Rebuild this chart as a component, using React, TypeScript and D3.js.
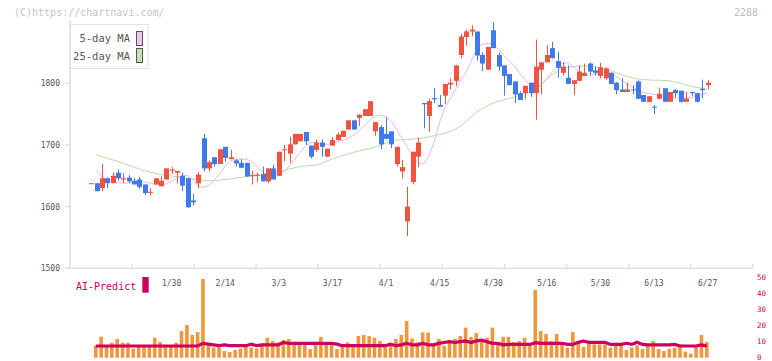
import * as d3 from 'd3';

// candle index 0..115 (trading days 1/8 .. 6/27)
const opens = [1638,1638,1630,1646,1638,1655,1644,1647,1642,1644,1636,1623,1636,1633,1644,1659,1655,1650,1646,1610,1638,1711,1662,1680,1669,1697,1677,1675,1671,1671,1650,1650,1653,1641,1662,1650,1692,1686,1701,1706,1721,1699,1692,1704,1681,1699,1708,1713,1725,1740,1744,1747,1747,1722,1729,1718,1722,1669,1657,1576,1640,1681,1768,1747,1776,1765,1780,1798,1804,1846,1875,1884,1884,1846,1822,1886,1846,1829,1815,1803,1784,1784,1801,1784,1822,1834,1857,1836,1817,1809,1799,1804,1812,1832,1821,1812,1808,1817,1801,1790,1786,1790,1803,1781,1770,1762,1775,1792,1770,1789,1788,1770,1786,1784,1791,1797];
const highs = [1638,1638,1669,1647,1655,1660,1654,1651,1646,1648,1636,1630,1646,1649,1662,1664,1658,1655,1647,1621,1656,1718,1675,1680,1693,1697,1692,1677,1677,1671,1658,1655,1665,1662,1668,1689,1700,1713,1718,1718,1721,1699,1709,1709,1694,1713,1720,1723,1740,1740,1750,1758,1771,1737,1732,1745,1722,1697,1676,1632,1689,1712,1768,1774,1792,1781,1799,1808,1830,1880,1887,1894,1884,1850,1859,1899,1850,1829,1815,1803,1787,1796,1801,1871,1834,1862,1867,1851,1834,1829,1805,1829,1832,1834,1827,1833,1826,1817,1802,1808,1801,1797,1805,1781,1779,1765,1793,1792,1786,1791,1788,1786,1786,1784,1806,1805];
const lows = [1638,1625,1625,1630,1638,1642,1638,1638,1636,1629,1619,1618,1636,1633,1644,1653,1638,1625,1598,1602,1630,1657,1657,1665,1669,1673,1677,1665,1662,1648,1636,1640,1641,1638,1644,1650,1674,1671,1701,1706,1700,1678,1689,1681,1681,1699,1707,1713,1725,1725,1731,1747,1747,1715,1693,1709,1695,1665,1646,1552,1636,1664,1727,1721,1768,1762,1766,1790,1796,1841,1861,1876,1837,1820,1822,1857,1820,1780,1797,1768,1773,1774,1778,1741,1782,1834,1840,1809,1813,1799,1781,1804,1812,1813,1813,1808,1806,1799,1782,1786,1786,1782,1774,1770,1769,1750,1774,1770,1770,1777,1769,1770,1779,1769,1776,1790];
const closes = [1638,1625,1646,1638,1650,1646,1646,1641,1636,1632,1622,1624,1646,1642,1662,1660,1658,1634,1599,1607,1652,1662,1672,1669,1693,1679,1680,1670,1663,1649,1651,1652,1641,1662,1644,1689,1693,1701,1718,1718,1706,1681,1704,1697,1694,1708,1717,1723,1740,1725,1749,1758,1771,1737,1701,1710,1701,1697,1664,1600,1689,1704,1766,1771,1774,1762,1799,1801,1829,1876,1884,1887,1845,1832,1859,1857,1827,1812,1797,1782,1773,1796,1784,1827,1834,1846,1841,1825,1827,1799,1805,1819,1817,1819,1817,1826,1824,1799,1789,1786,1790,1789,1775,1770,1779,1761,1783,1770,1786,1784,1770,1775,1784,1770,1789,1801];

const ma5 = [null,1659,1648,1643,1640,1639,1638,1638,1639,1640.5,1640,1638,1636,1634.5,1637,1641,1647,1650,1651,1643,1633,1631,1635,1644,1653,1666,1674,1677,1677,1677,1673,1664,1656,1652,1652,1653,1657,1666,1677,1688,1699,1704,1704,1702,1701,1702,1705,1708,1711,1716,1723,1731,1740,1747,1748,1746,1738,1725,1710,1696,1682,1671,1669,1682,1705,1737,1760,1776,1790,1806,1819,1838,1857,1863,1865,1862,1855,1845,1837,1827,1816,1805,1796,1792,1798,1808,1818,1827,1833,1833,1827,1819,1813,1813,1815,1817,1818,1818,1811,1804,1799,1794,1788,1785,1783,1782,1781,1779,1777,1776,1776,1776,1777,1779,1782,1784];
const ma25 = [null,1684,1681,1678,1676,1673,1670,1667,1664,1661,1658,1656,1654,1652,1651,1649.5,1648.5,1647,1646,1645,1644,1642.5,1642,1642.5,1643,1644,1645,1646.5,1647.5,1649,1650,1650.5,1651.5,1652.5,1654,1656,1658.5,1661,1663,1665,1666,1666.5,1667,1670,1674,1677.5,1680,1683,1685.5,1688,1690.5,1692.5,1694,1697,1700,1703,1707,1708,1708.5,1709,1709.5,1710.5,1711.5,1713,1715,1717,1719,1722,1726,1731,1739,1746,1754,1759,1764,1768,1771,1773,1775.5,1778,1781,1783.5,1787,1791,1798,1806,1814,1820,1825,1826,1827,1828,1828,1827.5,1827,1825,1823.5,1821,1817,1814,1811,1809,1807,1806,1805.5,1805,1805,1804.5,1804,1802,1800,1797,1795,1793,1792,1790.5];

const volume = [null,7.5,13.1,7.5,9.4,11.7,9.4,9.4,5.6,7.5,7.5,7.5,12.5,9.8,7.5,7.5,9.4,16.7,20.4,14.2,16,49.2,7.5,6.3,7.5,4.2,3.5,4.8,5.6,7.5,6.3,5.8,7.7,12.5,10.4,9.6,11,11.7,8,8,8.5,5.4,8,13,8,8,5.4,8.5,9.6,8.5,13.5,14.2,13.5,12.5,10.4,8.3,8.3,11.7,14.2,22.9,12,9.6,15.8,15.8,8.3,11.7,7.5,9.6,11.7,13.5,18.8,13,15.4,10.4,12.5,18.8,8.3,13.1,13.1,9.8,10.4,12.5,8.3,42.3,16.7,14.8,10.4,14.8,9.6,6.3,16,9,6.7,9.6,8.3,8.3,8.3,6.3,8.3,8.3,4.8,6.3,7.7,5.4,7.5,10.4,5.4,4.2,5.4,6.3,8.3,3.8,2.5,7.5,14.2,9.8];
const aiPredict = [null,7.3,7.3,7.3,7.3,7.3,7.3,7.3,7.3,7.3,7.3,7.3,7.3,7.3,7.3,7.3,7.3,7.3,7.3,7.3,7.3,9,8.5,8,7.5,8,7.5,7.5,7.5,7.5,8.5,7.5,8,8,8,8,9.5,9,9,9,9,9,9,9,9,9,8.5,7.5,7.5,7.5,7.5,7.5,7.5,7.5,7.5,7.5,8.5,7.5,8,9,8,8,9,8,8,9,9.5,10,9.5,10,10.5,9.5,10.5,11,10,9,9,8,8.3,8.3,8.3,8.3,8.3,9.4,9,9,9,9,9,8.3,8.3,9.6,10.4,9.6,9.6,9.6,9.6,8.3,8.3,8.3,9,8.3,9.6,8.3,8,8,8,8,8,8.3,7.3,7.3,7.3,7.3,8,7.3];

const dateLabels = ['1/30','2/14','3/3','3/17','4/1','4/15','4/30','5/16','5/30','6/13','6/27'];
const dateLabelIndex = [15,25,35,45,55,65,75,85,95,105,115];
const priceTicks = [1500,1600,1700,1800];
const volTicks = [0,10,20,30,40,50];

const W = 772, H = 361;
const MONO = '"DejaVu Sans Mono", monospace';
const RED = '#f0533f', BLUE = '#4279ea';
const AXIS = '#e0e0e0', LABEL = '#555';
const AI = '#cc0060';

export default function App() {
  const x = d3.scaleLinear().domain([0, 115]).range([91.2, 707.6]);
  const y = d3.scaleLinear().domain([1500, 1800]).range([268.3, 83.3]);
  const yv = d3.scaleLinear().domain([0, 50]).range([357.7, 277.7]);
  const grid = d3.scaleLinear().domain([0, 11]).range([70, 752.7]);

  const maLine = d3.line<number | null>()
    .defined(d => d != null)
    .x((_, i) => x(i))
    .y(d => y(d as number));
  const aiLine = d3.line<number | null>()
    .defined(d => d != null)
    .x((_, i) => x(i) - 0.8)
    .y(d => yv(d as number));

  const bodyW = 5;

  return (
    <svg width={W} height={H} style={{ position: 'absolute', left: 0, top: 0, background: '#fff' }}
      fontFamily={MONO}>
      {/* watermark */}
      <text x={14} y={16} fontSize={10} fill="#c4c4c4">(C)https://chartnavi.com/</text>
      <text x={758} y={16} fontSize={10} fill="#bbb" textAnchor="end">2288</text>

      {/* axes */}
      <line x1={70} x2={70} y1={20} y2={268.3} stroke={AXIS} strokeWidth={1.5} />
      <line x1={65} x2={752.7} y1={268.3} y2={268.3} stroke={AXIS} strokeWidth={1.5} />
      {d3.range(1, 12).map(k => (
        <line key={k} x1={grid(k)} x2={grid(k)} y1={264} y2={268.3} stroke={AXIS} strokeWidth={1.5} />
      ))}
      {priceTicks.map(p => (
        <g key={p}>
          <line x1={65} x2={70} y1={y(p)} y2={y(p)} stroke={AXIS} strokeWidth={1.5} />
          <text x={60} y={y(p) + 3} fontSize={8} fill={LABEL} textAnchor="end">{p}</text>
        </g>
      ))}
      {dateLabels.map((d, k) => (
        <text key={d} x={x(dateLabelIndex[k])} y={285.5} fontSize={8} fill={LABEL} textAnchor="middle">{d}</text>
      ))}

      {/* moving averages */}
      <path d={maLine(ma25) || ''} fill="none" stroke="#b6dca6" strokeWidth={1} />
      <path d={maLine(ma5) || ''} fill="none" stroke="#e8b6ea" strokeWidth={1} />

      {/* candles */}
      {opens.map((o, i) => {
        const c = closes[i];
        const col = c >= o ? RED : BLUE;
        const top = y(Math.max(o, c));
        const h = Math.max(1, y(Math.min(o, c)) - top);
        const cx = Math.round(x(i)) + 0.5;
        return (
          <g key={i}>
            <line x1={cx} x2={cx} y1={y(highs[i])} y2={y(lows[i])} stroke={col} strokeWidth={1} />
            <rect x={cx - bodyW / 2} y={top} width={bodyW} height={h} fill={col} />
          </g>
        );
      })}

      {/* legend */}
      <rect x={70.5} y={24.5} width={77.5} height={44} fill="#fff" stroke={AXIS} />
      <text x={130} y={41.7} fontSize={10.5} fill={LABEL} textAnchor="end">5-day MA</text>
      <text x={130} y={60} fontSize={10.5} fill={LABEL} textAnchor="end">25-day MA</text>
      <rect x={136.5} y={31.5} width={6} height={14} fill="#f0c4f0" stroke="#555" />
      <rect x={136.5} y={48.5} width={6} height={14} fill="#c4e2b4" stroke="#555" />

      {/* volume */}
      {volume.map((v, i) => v == null ? null : (
        <rect key={i} x={x(i) - 2.6} y={yv(v)} width={3.6} height={yv(0) - yv(v)} fill="#f0963c" />
      ))}
      <path d={aiLine(aiPredict) || ''} fill="none" stroke={AI} strokeWidth={3.2} />
      {volTicks.map(v => (
        <text key={v} x={757} y={Math.min(yv(v) + 2.5, 359.5)} fontSize={7.5} fill={AI}>{v}</text>
      ))}
      <text x={76} y={290} fontSize={10} fill={AI}>AI-Predict</text>
      <rect x={142.3} y={277} width={6.4} height={15.7} fill={AI} />
    </svg>
  );
}
